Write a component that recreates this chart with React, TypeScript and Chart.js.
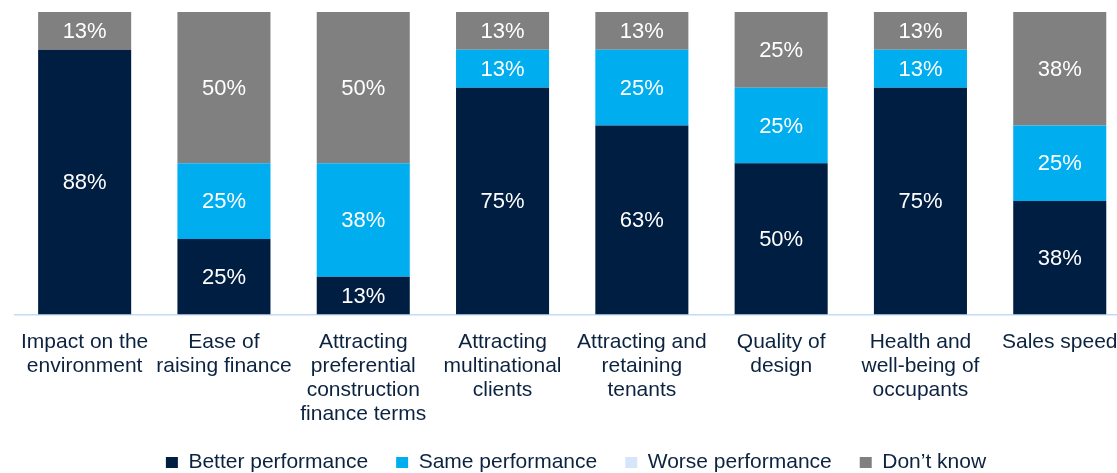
import React, { useEffect, useRef } from "react";
import { Chart, registerables } from "chart.js";

Chart.register(...registerables);

const categories: string[][] = [
  ["Impact on the", "environment"],
  ["Ease of", "raising finance"],
  ["Attracting", "preferential", "construction", "finance terms"],
  ["Attracting", "multinational", "clients"],
  ["Attracting and", "retaining", "tenants"],
  ["Quality of", "design"],
  ["Health and", "well-being of", "occupants"],
  ["Sales speed"],
];

const seriesNames = ["Better performance", "Same performance", "Worse performance", "Don\u2019t know"];
const betterPerformance = [87.5, 25, 12.5, 75, 62.5, 50, 75, 37.5];
const samePerformance = [0, 25, 37.5, 12.5, 25, 25, 12.5, 25];
const worsePerformance = [0, 0, 0, 0, 0, 0, 0, 0];
const dontKnow = [12.5, 50, 50, 12.5, 12.5, 25, 12.5, 37.5];
const seriesColors = ["#001E42", "#00AEEF", "#D6E6FA", "#808080"];

const FONT = "'Liberation Sans', Arial, sans-serif";
const TEXT = "#0C2340";

const dataLabels = {
  id: "dataLabels",
  afterDatasetsDraw(chart: any) {
    const ctx = chart.ctx;
    ctx.save();
    ctx.font = `22px ${FONT}`;
    ctx.fillStyle = "#FFFFFF";
    ctx.textAlign = "center";
    ctx.textBaseline = "middle";
    chart.data.datasets.forEach((ds: any, di: number) => {
      const meta = chart.getDatasetMeta(di);
      meta.data.forEach((el: any, i: number) => {
        const v = ds.data[i];
        if (!v) return;
        const yc = (el.y + el.base) / 2;
        ctx.fillText(`${Math.round(v)}%`, el.x, yc + 1);
      });
    });
    ctx.restore();
  },
};

export default function App() {
  const ref = useRef<HTMLCanvasElement>(null);
  useEffect(() => {
    if (!ref.current) return;
    const data = [betterPerformance, samePerformance, worsePerformance, dontKnow];
    const chart = new Chart(ref.current, {
      type: "bar",
      data: {
        labels: categories,
        datasets: seriesNames.map((name, k) => ({
          label: name,
          data: data[k],
          backgroundColor: seriesColors[k],
          borderWidth: 0,
          categoryPercentage: 1,
          barPercentage: 0.668,
        })),
      },
      options: {
        responsive: false,
        animation: false,
        devicePixelRatio: 1,
        layout: { padding: { top: 12, left: 0, right: 0, bottom: 0 } },
        font: { family: FONT },
        plugins: {
          tooltip: { enabled: false },
          legend: {
            position: "bottom",
            labels: {
              boxWidth: 12,
              boxHeight: 11,
              padding: 28,
              color: TEXT,
              font: { family: FONT, size: 21 },
            },
          },
        },
        scales: {
          x: {
            stacked: true,
            grid: { display: false },
            border: { display: true, color: "#C3DCF5", width: 1.5 },
            ticks: {
              color: TEXT,
              font: { family: FONT, size: 21, lineHeight: 24 / 21 },
              padding: 8,
              maxRotation: 0,
              minRotation: 0,
              autoSkip: false,
            },
            afterFit: (s: any) => {
              s.height = 109.5;
            },
          },
          y: {
            stacked: true,
            min: 0,
            max: 100,
            position: "left",
            grid: { display: false },
            border: { display: false },
            ticks: { display: false },
            afterFit: (s: any) => {
              s.width = 15;
            },
          },
          y2: {
            min: 0,
            max: 100,
            position: "right",
            grid: { display: false },
            border: { display: false },
            ticks: { display: false },
            afterFit: (s: any) => {
              s.width = 22.6;
            },
          },
        },
      },
      plugins: [dataLabels],
    } as any);
    return () => chart.destroy();
  }, []);
  return (
    <div
      style={{
        position: "fixed",
        left: 0,
        top: 0,
        width: 1117,
        height: 473,
        overflow: "hidden",
        background: "#FFFFFF",
      }}
    >
      <canvas ref={ref} width={1152} height={483} style={{ display: "block" }} />
    </div>
  );
}
